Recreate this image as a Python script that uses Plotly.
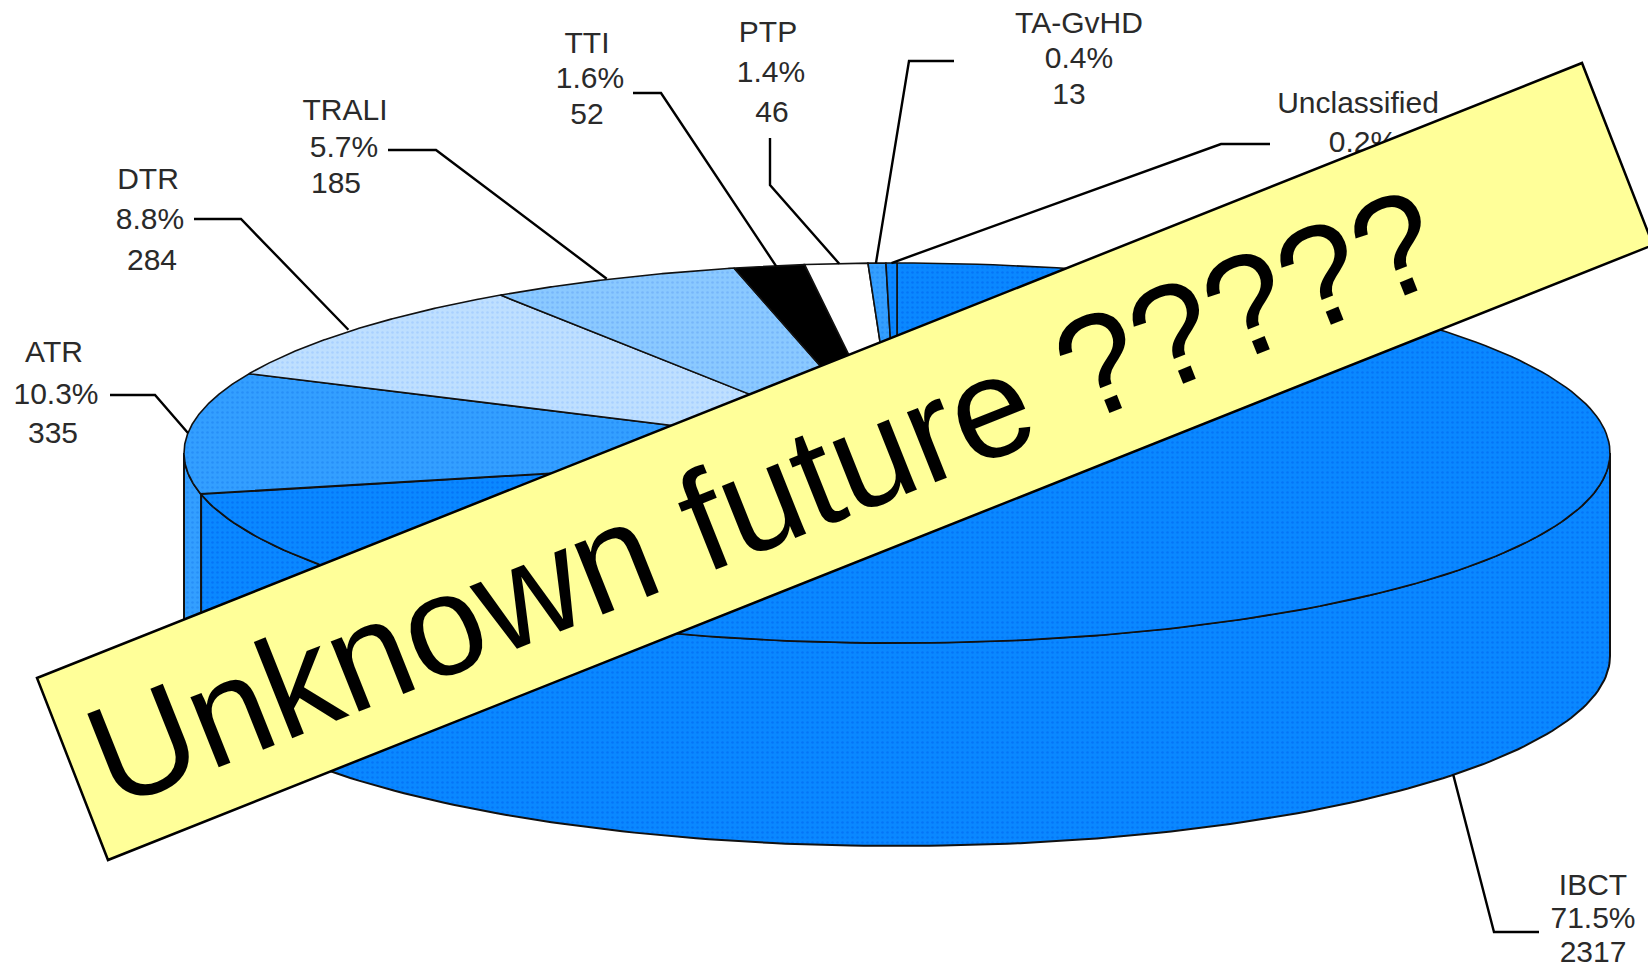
import numpy as np
import plotly.graph_objects as go

# ---- data ----
categories = ["IBCT", "ATR", "DTR", "TRALI", "TTI", "PTP", "TA-GvHD", "Unclassified"]
counts = [2317, 335, 284, 185, 52, 46, 13, 8]
banner_text = "Unknown future ?????"

# ---- look ----
W, H = 1648, 967
CX, CY, RX, RY, DEPTH = 897, 453, 713, 190, 203
FONT = "Liberation Sans"
fills = {
    "IBCT": ("#0A88FF", "#0062EE"), "ATR": ("#339FFF", "#1C80F0"),
    "DTR": ("#BEDFFF", "#94C2FF"), "TRALI": ("#8AC9FF", "#64A4F5"),
    "TTI": ("#000000", "#000000"), "PTP": ("#FFFFFF", "#FFFFFF"),
    "TA-GvHD": ("#339FFF", "#1C80F0"), "Unclassified": ("#0A88FF", "#0062EE"),
}
# label line centres (px): name, percent, count
label_pos = {
    "IBCT": [(1593, 887), (1593, 920), (1593, 954)],
    "ATR": [(54, 354), (56, 396), (53, 435)],
    "DTR": [(148, 181), (150, 221), (152, 262)],
    "TRALI": [(345, 112), (344, 149), (336, 185)],
    "TTI": [(587, 45), (590, 80), (587, 116)],
    "PTP": [(768, 34), (771, 74), (772, 114)],
    "TA-GvHD": [(1079, 25), (1079, 60), (1069, 96)],
    "Unclassified": [(1358, 105), (1363, 144), (1363, 184)],
}
# leader line elbow and end (px)
leader_pos = {
    "IBCT": [(1494, 932), (1539, 932)],
    "ATR": [(155, 395), (110, 395)],
    "DTR": [(241, 219), (194, 219)],
    "TRALI": [(436, 150), (388, 150)],
    "TTI": [(661, 93), (633, 93)],
    "PTP": [(770, 185), (770, 138)],
    "TA-GvHD": [(909, 61), (954, 61)],
    "Unclassified": [(1221, 144), (1270, 144)],
}
# small horizontal correction of where a leader meets the rim (px)
leader_nudge = {"TTI": 7, "TRALI": -6, "DTR": -6, "TA-GvHD": -1, "PTP": 3}
banner = [(37, 678), (1582, 63), (1653, 245), (108, 860)]
banner_angle = -21.7


def ell(theta, dy=0.0):
    return CX + RX * np.sin(theta), CY - RY * np.cos(theta) + dy


total = sum(counts)
edges = np.cumsum([0] + counts) / total * 2 * np.pi
fig = go.Figure()


def patch(x, y, name, lw=1.6):
    bg, fg = fills[name]
    fig.add_trace(go.Scatter(
        x=x, y=y, mode="lines", fill="toself", fillcolor=bg,
        fillpattern=dict(shape=".", size=5, solidity=0.22, fgcolor=fg, bgcolor=bg),
        line=dict(color="#111111", width=lw), hoverinfo="skip", showlegend=False))


# side wall (front half of the disc only)
for name, a, b in zip(categories, edges[:-1], edges[1:]):
    lo, hi = max(a, np.pi / 2), min(b, 3 * np.pi / 2)
    if hi > lo:
        t = np.linspace(lo, hi, 160)
        xt, yt = ell(t)
        xb, yb = ell(t, DEPTH)
        patch(np.r_[xt, xb[::-1], xt[0]], np.r_[yt, yb[::-1], yt[0]], name, 2)

# top face
for name, a, b in zip(categories, edges[:-1], edges[1:]):
    t = np.linspace(a, b, 200)
    xt, yt = ell(t)
    patch(np.r_[CX, xt, CX], np.r_[CY, yt, CY], name)

# leader lines and labels
for name, c, a, b in zip(categories, counts, edges[:-1], edges[1:]):
    mid = (a + b) / 2
    sx, sy = ell(mid, DEPTH if name == "IBCT" else 0)
    sx = sx + leader_nudge.get(name, 0)
    pts = leader_pos[name]
    fig.add_trace(go.Scatter(
        x=[sx] + [p[0] for p in pts], y=[sy] + [p[1] for p in pts], mode="lines",
        line=dict(color="#000000", width=2.4), hoverinfo="skip", showlegend=False))
    lines = [name, f"{c / total * 100:.1f}%", str(c)]
    pos = label_pos[name]
    fig.add_trace(go.Scatter(
        x=[p[0] for p in pos], y=[p[1] for p in pos], mode="text", text=lines,
        textposition="middle center", textfont=dict(family=FONT, size=30, color="#2A2A2A"),
        hoverinfo="skip", showlegend=False))

# banner
path = "M " + " L ".join(f"{x},{y}" for x, y in banner) + " Z"
fig.add_shape(type="path", path=path, xref="x", yref="y", layer="above",
              fillcolor="#FFFF99", line=dict(color="#000000", width=2.5))
fig.add_annotation(x=763, y=497, xref="x", yref="y", text=banner_text, showarrow=False,
                   textangle=banner_angle, xanchor="center", yanchor="middle",
                   font=dict(family=FONT, size=143, color="#000000"))

fig.update_layout(
    width=W, height=H, margin=dict(l=0, r=0, t=0, b=0),
    paper_bgcolor="#FFFFFF", plot_bgcolor="#FFFFFF", showlegend=False,
    xaxis=dict(range=[0, W], visible=False, fixedrange=True),
    yaxis=dict(range=[H, 0], visible=False, fixedrange=True),
)
fig.write_html("out.html", config={"displayModeBar": False},
               post_script="document.body.style.margin='0';document.body.style.overflow='hidden';")
